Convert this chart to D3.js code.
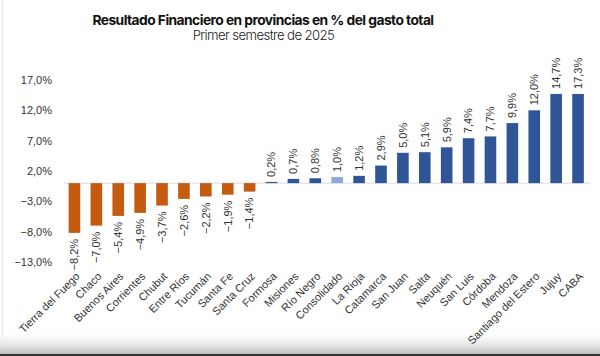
<!DOCTYPE html>
<html><head><meta charset="utf-8">
<script src="https://cdn.jsdelivr.net/npm/d3@7"></script>
<style>
html,body{margin:0;padding:0;background:#fff;}
svg{display:block;}
</style></head>
<body>
<svg id="chart" width="600" height="356"></svg>
<script>
const provinces = ["Tierra del Fuego","Chaco","Buenos Aires","Corrientes","Chubut","Entre Ríos","Tucumán","Santa Fe","Santa Cruz","Formosa","Misiones","Río Negro","Consolidado","La Rioja","Catamarca","San Juan","Salta","Neuquén","San Luis","Córdoba","Mendoza","Santiago del Estero","Jujuy","CABA"];
const values = [-8.2,-7.0,-5.4,-4.9,-3.7,-2.6,-2.2,-1.9,-1.4,0.2,0.7,0.8,1.0,1.2,2.9,5.0,5.1,5.9,7.4,7.7,9.9,12.0,14.7,17.3];
const yTicks = [-13,-8,-3,2,7,12,17];
const title = "Resultado Financiero en provincias en % del gasto total";
const subtitle = "Primer semestre de 2025";

const barCap = 14.7; // bars are drawn cut at the plot top in the reference
const svg = d3.select("#chart");
const W = 600, H = 356;

// decorative background
const defs = svg.append("defs");
const g1 = defs.append("linearGradient").attr("id","shade").attr("x1",0).attr("x2",0).attr("y1",0).attr("y2",1);
g1.append("stop").attr("offset","0%").attr("stop-color","#ffffff");
g1.append("stop").attr("offset","60%").attr("stop-color","#e4e4e4");
g1.append("stop").attr("offset","100%").attr("stop-color","#bdbdbd");
svg.append("rect").attr("width",W).attr("height",H).attr("fill","#fff");
svg.append("rect").attr("x",0).attr("y",334).attr("width",W).attr("height",20).attr("fill","url(#shade)");
svg.append("rect").attr("x",0).attr("y",354).attr("width",W).attr("height",2).attr("fill","#333");
svg.append("line").attr("x1",2.5).attr("x2",2.5).attr("y1",0).attr("y2",340).attr("stroke","#e6e6e6");

const x = d3.scaleBand().domain(provinces).range([63.5, 589]).paddingInner(0.47).paddingOuter(0.235);
const y = d3.scaleLinear().domain([-13, 17]).range([262, 80]);

const fmt = v => d3.format(".1f")(v).replace(".", ",") + "%";

// title
svg.append("text").attr("x",263).attr("y",24.5).attr("text-anchor","middle")
  .attr("font-family","Inter").attr("font-weight",700).attr("font-size",13.8).attr("letter-spacing","-0.55px")
  .attr("fill","#111").text(title);
svg.append("text").attr("x",263.5).attr("y",40).attr("text-anchor","middle")
  .attr("font-family","Inter").attr("font-weight",300).attr("font-size",13.2).attr("letter-spacing","-0.6px")
  .attr("fill","#222").text(subtitle);

// y axis labels
const yAxis = d3.axisLeft(y).tickValues(yTicks).tickFormat(fmt).tickSize(0).tickPadding(0);
const ya = svg.append("g").attr("transform","translate(52,0)").call(yAxis);
ya.select(".domain").remove();
ya.selectAll("text").attr("font-family","Liberation Sans").attr("font-size",11).attr("fill","#333");

// baseline
svg.append("line").attr("x1",63.5).attr("x2",590).attr("y1",y(0)).attr("y2",y(0))
  .attr("stroke","#d9d9d9").attr("stroke-width",1);

const color = (p, v) => p === "Consolidado" ? "#8eaadc" : (v < 0 ? "#c55a11" : "#2f5597");

const data = provinces.map((p,i) => ({p, v: values[i]}));
svg.append("g").selectAll("rect").data(data).join("rect")
  .attr("x", d => x(d.p))
  .attr("width", x.bandwidth())
  .attr("y", d => y(Math.max(0, Math.min(d.v, barCap))))
  .attr("height", d => Math.abs(y(Math.min(d.v, barCap)) - y(0)))
  .attr("fill", d => color(d.p, d.v));

// value labels
svg.append("g").selectAll("text").data(data).join("text")
  .attr("transform", d => {
    const cx = x(d.p) + x.bandwidth()/2;
    const yy = d.v >= 0 ? y(Math.min(d.v, barCap)) - 5 : y(d.v) + 6;
    return `translate(${cx},${yy}) rotate(-90)`;
  })
  .attr("text-anchor", d => d.v >= 0 ? "start" : "end")
  .attr("dy","0.35em")
  .attr("font-family","Liberation Sans").attr("font-size",11).attr("fill","#333")
  .text(d => fmt(d.v));

// category labels
svg.append("g").selectAll("text").data(provinces).join("text")
  .attr("transform", p => `translate(${x(p) + x.bandwidth()/2 + 6},${277}) rotate(-45)`)
  .attr("text-anchor","end")
  .attr("font-family","Liberation Sans").attr("font-size",11).attr("fill","#333")
  .text(p => p);
</script>
</body></html>
